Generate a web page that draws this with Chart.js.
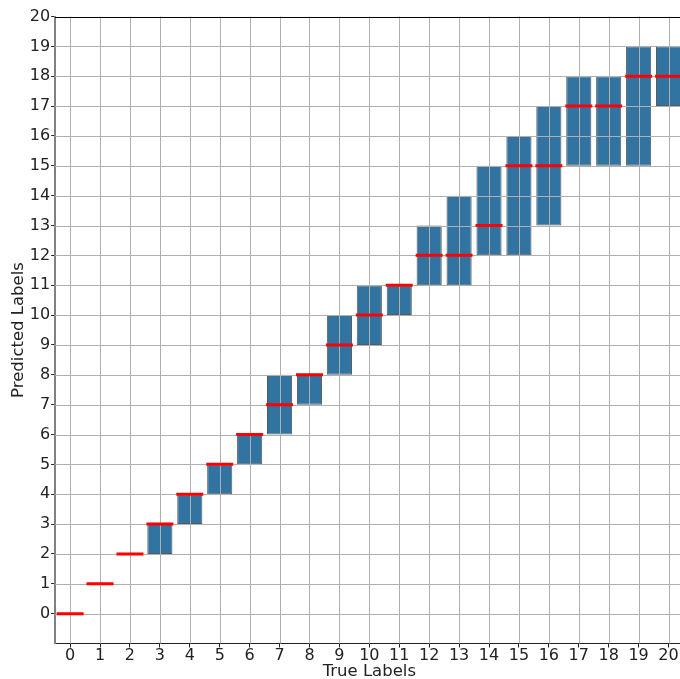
<!DOCTYPE html>
<html>
<head>
<meta charset="utf-8">
<script src="https://cdn.jsdelivr.net/npm/chart.js@4.4.1/dist/chart.umd.min.js"></script>
<style>
    html, body { margin: 0; padding: 0; background: #fff; overflow: hidden; }
    #wrap { width: 700px; height: 680px; }
</style>
</head>
<body>
<div id="wrap"><canvas id="box-chart"></canvas></div>
<script>
const trueLabels = ["0","1","2","3","4","5","6","7","8","9","10","11","12","13","14","15","16","17","18","19","20"];
const q1Values = [0, 1, 2, 2, 3, 4, 5, 6, 7, 8, 9, 10, 11, 11, 12, 12, 13, 15, 15, 15, 17];
const q3Values = [0, 1, 2, 3, 4, 5, 6, 8, 8, 10, 11, 11, 13, 14, 15, 16, 17, 18, 18, 19, 19];
const medianValues = [0, 1, 2, 3, 4, 5, 6, 7, 8, 9, 10, 11, 12, 12, 13, 15, 15, 17, 17, 18, 18];

const FONT = "'DejaVu Sans', sans-serif";
const GRID_COLOR = "#b0b0b0";

// grid goes over the boxes but under the red medians
const gridOverBoxes = {
    id: "gridOverBoxes",
    afterDatasetDraw(chart, args) {
        if (args.meta.type !== "bar") return;
        const ctx = chart.ctx;
        const area = chart.chartArea;
        const xs = chart.scales.x;
        const ys = chart.scales.y;
        ctx.save();
        ctx.strokeStyle = GRID_COLOR;
        ctx.lineWidth = 1;
        ctx.beginPath();
        xs.ticks.forEach((t, i) => {
            const px = Math.round(xs.getPixelForTick(i)) + 0.5;
            ctx.moveTo(px, area.top);
            ctx.lineTo(px, area.bottom);
        });
        ys.ticks.forEach((t) => {
            if (t.value < 0 || t.value >= 20) return;
            const py = Math.round(ys.getPixelForValue(t.value)) + 0.5;
            ctx.moveTo(area.left, py);
            ctx.lineTo(area.right, py);
        });
        ctx.stroke();
        ctx.restore();
    },
    afterDraw(chart) {
        const ctx = chart.ctx;
        const area = chart.chartArea;
        ctx.save();
        ctx.strokeStyle = "#000";
        ctx.lineWidth = 1;
        ctx.beginPath();
        ctx.moveTo(area.left, Math.round(area.top) + 0.5);
        ctx.lineTo(area.right, Math.round(area.top) + 0.5);
        ctx.stroke();
        ctx.restore();
    },
};

const boxChart = new Chart(document.getElementById("box-chart"), {
    data: {
        labels: trueLabels,
        datasets: [
            {
                type: "line",
                label: "Median",
                data: medianValues,
                showLine: false,
                pointStyle: "line",
                pointRadius: 13.5,
                pointHoverRadius: 13.5,
                pointBorderWidth: 3,
                pointBorderColor: "#ff0000",
                pointBackgroundColor: "#ff0000",
                order: 0,
            },
            {
                type: "bar",
                label: "IQR",
                data: q1Values.map((q1, i) => [q1, q3Values[i]]),
                backgroundColor: "#3274a1",
                borderColor: "rgba(60, 60, 60, 0.85)",
                borderWidth: 1,
                borderSkipped: false,
                barPercentage: 0.84,
                categoryPercentage: 1,
                order: 1,
            },
        ],
    },
    options: {
        responsive: true,
        maintainAspectRatio: false,
        animation: false,
        layout: { padding: { top: 7, right: 0, bottom: 0, left: 9 } },
        plugins: {
            legend: { display: false },
            tooltip: { enabled: false },
        },
        scales: {
            x: {
                type: "category",
                offset: true,
                grid: {
                    drawOnChartArea: false,
                    drawTicks: true,
                    tickLength: 4,
                    tickColor: "#222",
                    offset: false,
                },
                border: { color: "#222", width: 1 },
                ticks: {
                    color: "#222",
                    font: { family: FONT, size: 16, lineHeight: 1.0 },
                    padding: 0,
                    maxRotation: 0,
                    autoSkip: false,
                },
                title: {
                    display: true,
                    text: "True Labels",
                    color: "#222",
                    font: { family: FONT, size: 16.5, lineHeight: 1.0 },
                    padding: { top: 0, bottom: 0 },
                },
            },
            y: {
                type: "linear",
                min: -1,
                max: 20,
                grid: {
                    drawOnChartArea: false,
                    drawTicks: true,
                    tickLength: 4,
                    tickColor: (c) => (c.tick && c.tick.value < 0 ? "rgba(0,0,0,0)" : "#222"),
                },
                border: { color: "#808080", width: 2 },
                ticks: {
                    stepSize: 1,
                    color: "#222",
                    font: { family: FONT, size: 16 },
                    padding: 1,
                    callback: (v) => (v < 0 ? "" : v),
                },
                title: {
                    display: true,
                    text: "Predicted Labels",
                    color: "#222",
                    font: { family: FONT, size: 16.5 },
                    padding: { top: 0, bottom: 0 },
                },
            },
        },
    },
    plugins: [gridOverBoxes],
});
</script>
</body>
</html>
